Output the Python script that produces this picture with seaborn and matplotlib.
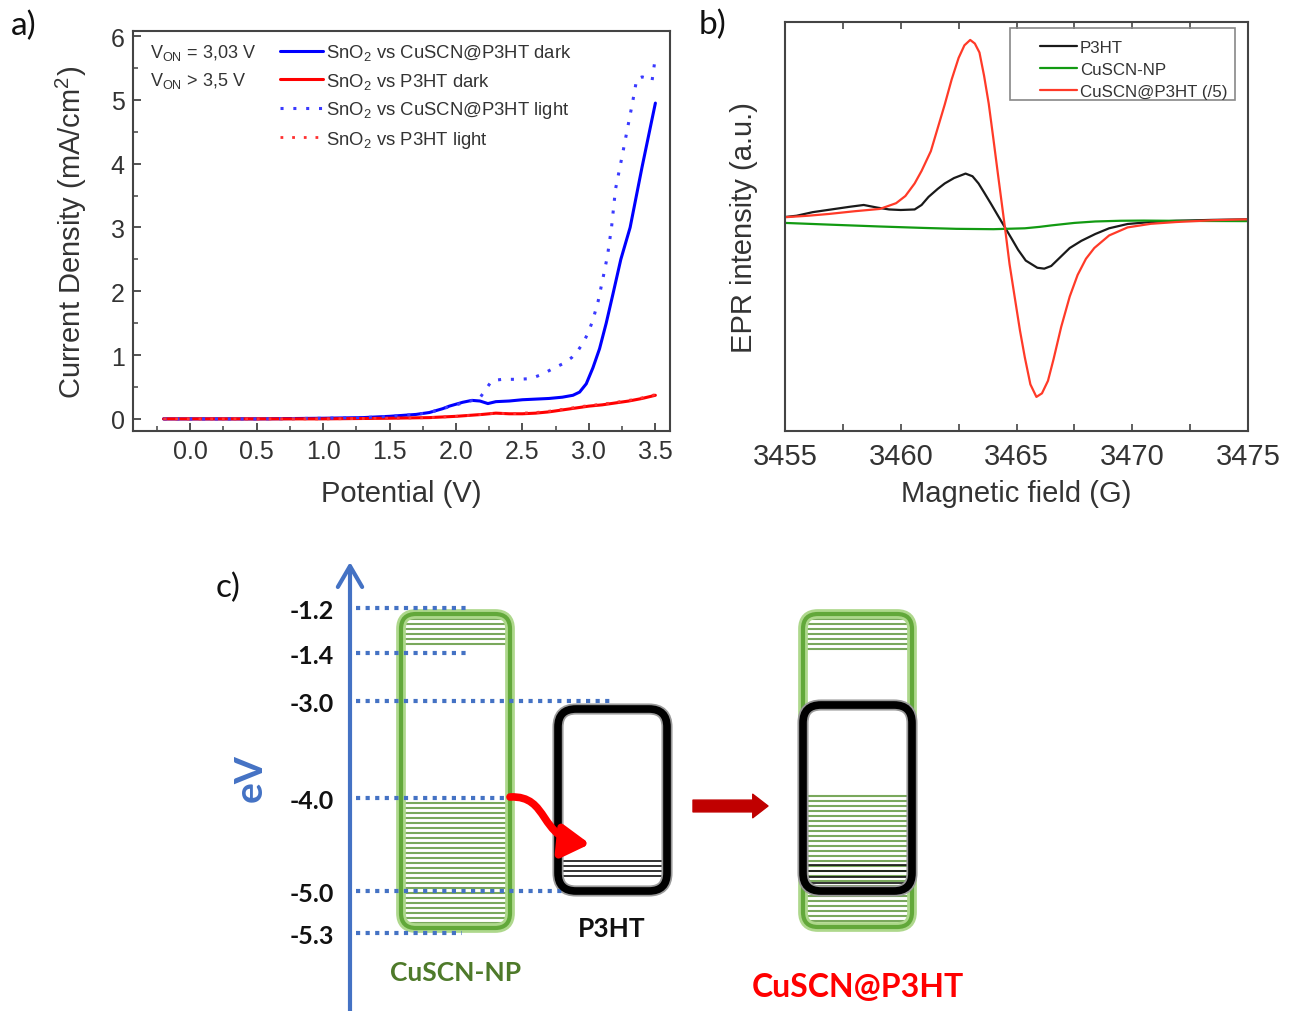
import numpy as np
import matplotlib
matplotlib.use("Agg")
import matplotlib.pyplot as plt
import seaborn as sns
from matplotlib.patches import FancyBboxPatch, FancyArrowPatch
from matplotlib.path import Path
from matplotlib.ticker import MultipleLocator, FormatStrFormatter

# ---------- a) current density vs potential ----------
pot_cuscn_dark = [-0.2, 0.0, 0.5, 1.0, 1.3, 1.5, 1.7, 1.8, 1.9, 1.95, 2.05, 2.12, 2.18, 2.24, 2.3,
                  2.4, 2.5, 2.6, 2.7, 2.8, 2.88, 2.93, 2.98, 3.03, 3.08, 3.13, 3.18, 3.24, 3.31, 3.4, 3.5]
j_cuscn_dark = [0.0, 0.0, 0.0, 0.01, 0.02, 0.04, 0.07, 0.1, 0.16, 0.2, 0.26, 0.29, 0.28, 0.24, 0.27,
                0.28, 0.3, 0.31, 0.32, 0.34, 0.37, 0.42, 0.55, 0.8, 1.1, 1.5, 1.95, 2.5, 3.0, 3.95, 4.95]

pot_p3ht_dark = [-0.2, 0.0, 0.5, 1.0, 1.5, 1.8, 2.0, 2.2, 2.3, 2.4, 2.5, 2.6, 2.7, 2.8, 2.9, 3.0,
                 3.1, 3.2, 3.3, 3.4, 3.5]
j_p3ht_dark = [0.0, 0.0, 0.0, 0.0, 0.01, 0.02, 0.04, 0.07, 0.09, 0.08, 0.08, 0.09, 0.11, 0.14, 0.17,
               0.2, 0.22, 0.25, 0.28, 0.32, 0.37]

pot_cuscn_light = [-0.2, 0.0, 0.5, 1.0, 1.3, 1.5, 1.7, 1.8, 1.9, 2.0, 2.1, 2.17, 2.22, 2.27, 2.35,
                   2.45, 2.56, 2.65, 2.74, 2.8, 2.87, 2.92, 2.96, 3.0, 3.03, 3.07, 3.11, 3.14, 3.17,
                   3.2, 3.25, 3.29, 3.33, 3.36, 3.4, 3.44, 3.475, 3.5]
j_cuscn_light = [0.0, 0.0, 0.0, 0.01, 0.02, 0.04, 0.07, 0.1, 0.16, 0.22, 0.28, 0.3, 0.45, 0.6, 0.62,
                 0.62, 0.63, 0.7, 0.8, 0.86, 0.96, 1.08, 1.2, 1.38, 1.55, 1.85, 2.25, 2.56, 3.0,
                 3.6, 4.12, 4.55, 4.98, 5.33, 5.36, 5.34, 5.3, 5.67]

pot_p3ht_light = [-0.2, 0.0, 0.5, 1.0, 1.5, 1.8, 2.0, 2.2, 2.3, 2.4, 2.5, 2.6, 2.7, 2.8, 2.9, 3.0,
                  3.1, 3.2, 3.3, 3.4, 3.5]
j_p3ht_light = [0.0, 0.0, 0.0, 0.0, 0.01, 0.02, 0.04, 0.07, 0.09, 0.08, 0.09, 0.1, 0.12, 0.15, 0.18,
                0.21, 0.23, 0.26, 0.29, 0.33, 0.38]

# ---------- b) EPR spectra ----------
field_red = [3454.8, 3456.0, 3456.9, 3458.0, 3459.1, 3459.8, 3460.2, 3460.6, 3460.9, 3461.3, 3461.6,
             3461.9, 3462.2, 3462.5, 3462.75, 3463.0, 3463.2, 3463.4, 3463.6, 3463.8, 3464.0, 3464.2,
             3464.5, 3464.7, 3464.93, 3465.15, 3465.36, 3465.6, 3465.86, 3466.1, 3466.36, 3466.6,
             3466.93, 3467.3, 3467.64, 3468.0, 3468.36, 3469.0, 3469.8, 3470.8, 3471.9, 3473.5, 3475.0]
epr_red = [0.01, 0.02, 0.03, 0.045, 0.058, 0.09, 0.13, 0.2, 0.27, 0.38, 0.51, 0.64, 0.78, 0.9, 0.97,
           1.0, 0.98, 0.93, 0.8, 0.645, 0.45, 0.25, -0.045, -0.25, -0.44, -0.62, -0.77, -0.92, -0.99,
           -0.97, -0.9, -0.78, -0.6, -0.43, -0.31, -0.22, -0.16, -0.09, -0.045, -0.025, -0.015,
           -0.005, 0.0]

field_black = [3454.8, 3455.5, 3456.2, 3457.0, 3457.8, 3458.4, 3459.0, 3459.5, 3460.0, 3460.6,
               3460.9, 3461.2, 3461.6, 3461.9, 3462.3, 3462.8, 3463.1, 3463.36, 3463.6, 3463.9,
               3464.2, 3464.5, 3464.8, 3465.07, 3465.4, 3465.9, 3466.2, 3466.5, 3466.9, 3467.3,
               3467.8, 3468.4, 3469.0, 3469.8, 3470.8, 3471.9, 3473.5, 3475.0]
epr_black = [0.01, 0.02, 0.04, 0.055, 0.07, 0.08, 0.065, 0.055, 0.052, 0.055, 0.08, 0.125, 0.17,
             0.2, 0.23, 0.255, 0.24, 0.2, 0.15, 0.086, 0.02, -0.045, -0.11, -0.17, -0.23, -0.27,
             -0.275, -0.26, -0.21, -0.16, -0.12, -0.082, -0.05, -0.026, -0.015, -0.008, -0.003, 0.0]

field_green = [3455.0, 3457.0, 3459.1, 3461.0, 3462.4, 3464.0, 3465.36, 3466.0, 3466.5, 3467.5,
               3468.4, 3469.5, 3470.5, 3472.5, 3475.0]
epr_green = [-0.02, -0.03, -0.04, -0.048, -0.053, -0.055, -0.05, -0.042, -0.034, -0.02, -0.012,
             -0.008, -0.007, -0.009, -0.01]

# ---------- c) energy diagram ----------
level_labels = ["-1.2", "-1.4", "-3.0", "-4.0", "-5.0", "-5.3"]
level_y = [609, 654, 702, 799, 892, 934]          # schematic, not to scale
level_x_end = [466, 466, 612, 510, 605, 462]

BLUE_C = "#4472c4"

sns.set_style("ticks")
plt.rcParams['font.family'] = ['Liberation Sans', 'DejaVu Sans']
plt.rcParams['mathtext.default'] = 'regular'
plt.rcParams['text.color'] = '#333333'
plt.rcParams['axes.labelcolor'] = '#333333'

W, H = 1293, 1012
fig = plt.figure(figsize=(W / 100, H / 100), dpi=100)


def px_axes(l, t, r, b):
    return fig.add_axes([l / W, 1 - b / H, (r - l) / W, (b - t) / H])


def frame(ax):
    for s in ax.spines.values():
        s.set_visible(True)
        s.set_color('#444444')
        s.set_linewidth(1.5)


# ---- panel a
ax_a = px_axes(133, 32, 670, 432)
dots = (0, (1, 3.2))
sns.lineplot(x=pot_cuscn_dark, y=j_cuscn_dark, ax=ax_a, color='#0000ff', lw=2.2, sort=False,
             estimator=None, label='SnO$_2$ vs CuSCN@P3HT dark')
sns.lineplot(x=pot_p3ht_dark, y=j_p3ht_dark, ax=ax_a, color='#ff0000', lw=2.2, sort=False,
             estimator=None, label='SnO$_2$ vs P3HT dark')
sns.lineplot(x=pot_cuscn_light, y=j_cuscn_light, ax=ax_a, color='#3a3aff', lw=2.2, sort=False,
             estimator=None, linestyle=dots, label='SnO$_2$ vs CuSCN@P3HT light')
sns.lineplot(x=pot_p3ht_light, y=j_p3ht_light, ax=ax_a, color='#ff3030', lw=2.0, sort=False,
             estimator=None, linestyle=dots, label='SnO$_2$ vs P3HT light')
ax_a.set_xlim(-0.43, 3.61)
ax_a.set_ylim(-0.19, 6.08)
ax_a.set_xticks(np.arange(0, 3.51, 0.5))
ax_a.set_yticks(range(0, 7))
ax_a.xaxis.set_major_formatter(FormatStrFormatter('%.1f'))
ax_a.xaxis.set_minor_locator(MultipleLocator(0.25))
ax_a.yaxis.set_minor_locator(MultipleLocator(0.5))
ax_a.tick_params(which='both', direction='in', colors='#444444', labelcolor='#333333', labelsize=18)
ax_a.tick_params(which='major', length=6, width=1.3, pad=6)
ax_a.tick_params(which='minor', length=3.5, width=1.1)
frame(ax_a)
ax_a.set_xlabel('Potential (V)', fontsize=21)
ax_a.set_ylabel('Current Density (mA/cm$^2$)', fontsize=21)
ax_a.xaxis.set_label_coords(0.5, -0.12)
ax_a.yaxis.set_label_coords(-0.082, 0.5)
ax_a.legend(loc='upper left', bbox_to_anchor=(0.274, 0.972), frameon=False, fontsize=13.3,
            borderpad=0, borderaxespad=0, handlelength=2.3, handletextpad=0.2, labelspacing=0.46)
ax_a.text(0.032, 0.948, 'V$_{ON}$ = 3,03 V', transform=ax_a.transAxes, fontsize=13, va='center')
ax_a.text(0.032, 0.878, 'V$_{ON}$ > 3,5 V', transform=ax_a.transAxes, fontsize=13, va='center')

# ---- panel b
ax_b = px_axes(785, 23, 1248, 432)
sns.lineplot(x=field_black, y=epr_black, ax=ax_b, color='#1a1a1a', lw=1.6, sort=False,
             estimator=None, label='P3HT')
sns.lineplot(x=field_green, y=epr_green, ax=ax_b, color='#129a12', lw=1.6, sort=False,
             estimator=None, label='CuSCN-NP')
sns.lineplot(x=field_red, y=epr_red, ax=ax_b, color='#ff3a28', lw=1.6, sort=False,
             estimator=None, label='CuSCN@P3HT (/5)')
ax_b.set_xlim(3455, 3475)
ax_b.set_ylim(-1.18, 1.1)
ax_b.set_xticks(range(3455, 3476, 5))
ax_b.xaxis.set_minor_locator(MultipleLocator(2.5))
ax_b.set_yticks([])
ax_b.tick_params(which='both', direction='in', top=True, colors='#444444', labelcolor='#333333',
                 labelsize=21, length=5, width=1.2, pad=8)
frame(ax_b)
ax_b.set_xlabel('Magnetic field (G)', fontsize=21)
ax_b.set_ylabel('EPR intensity (a.u.)', fontsize=21)
ax_b.xaxis.set_label_coords(0.5, -0.117)
ax_b.yaxis.set_label_coords(-0.058, 0.5)
ax_b.add_patch(plt.Rectangle((0.486, 0.81), 0.486, 0.176, transform=ax_b.transAxes, fill=False,
                             ec='#888888', lw=1.2))
ax_b.legend(loc='upper left', bbox_to_anchor=(0.551, 0.956), frameon=False, fontsize=12.2,
            borderpad=0, borderaxespad=0, handlelength=2.2, handletextpad=0.15, labelspacing=0.4)

# ---- panel c (schematic in pixel coordinates)
ax_c = fig.add_axes([0, 0, 1, 456 / H])
ax_c.set_xlim(0, W)
ax_c.set_ylim(H, H - 456)
ax_c.axis('off')
ax_c.set_zorder(-1)

ax_c.annotate('', xy=(350, 563), xytext=(350, 1012),
              arrowprops=dict(arrowstyle='->,head_length=0.6,head_width=0.35', lw=3, color=BLUE_C,
                              mutation_scale=25, shrinkA=0, shrinkB=0))
ax_c.text(250, 778, 'eV', rotation=90, ha='center', va='center', color=BLUE_C, fontsize=28,
          fontweight='bold', family='Lato')

for lab, y, xe in zip(level_labels, level_y, level_x_end):
    ax_c.plot([356, xe], [y, y], color=BLUE_C, lw=3, linestyle=(0, (1, 1.3)), zorder=3)
    ax_c.text(334, y + 3, lab, ha='right', va='center', fontsize=18, fontweight='bold',
              family='Lato', color='#111111')


def stripes(x0, x1, y0, y1, color, step=5, lw=1.5):
    ax_c.hlines(np.arange(y0, y1, step), x0, x1, colors=color, lw=lw, zorder=1)


def rbox(x0, x1, y0, y1, ec, lw, r, z=2):
    ax_c.add_patch(FancyBboxPatch((x0, y0), x1 - x0, y1 - y0, fill=False, ec=ec, lw=lw,
                                  boxstyle=f'round,pad=0,rounding_size={r}', zorder=z))


def green_box(x0, x1, y0, y1, bands):
    for b0, b1 in bands:
        stripes(x0 + 4, x1 - 4, b0, b1, '#79a85c')
    rbox(x0, x1, y0, y1, '#aed88c', 7, 15)
    rbox(x0, x1, y0, y1, '#62a83a', 3, 15)


# CuSCN-NP
green_box(401, 510, 615, 929, [(620, 650), (804, 926)])
# P3HT
stripes(563, 662, 862, 880, '#111111', step=5, lw=1.2)
rbox(558, 667, 710, 892, '#9a9a9a', 8, 18)
rbox(558, 667, 710, 892, 'black', 5.5, 18, z=3)
# CuSCN@P3HT
green_box(803, 912, 615, 928, [(620, 652), (797, 924)])
stripes(808, 907, 866, 885, '#111111', step=6, lw=1.2)
rbox(803, 912, 706, 892, '#9a9a9a', 8, 18, z=3)
rbox(803, 912, 706, 892, 'black', 5.5, 18, z=4)

# red electron-transfer arrow
arc = Path([(510, 798), (550, 796), (538, 840), (590, 845)],
           [Path.MOVETO, Path.CURVE4, Path.CURVE4, Path.CURVE4])
ax_c.add_patch(FancyArrowPatch(path=arc, arrowstyle='-|>,head_length=0.75,head_width=0.45',
                               mutation_scale=22, lw=5.5, color='#ff0000', zorder=5))
# dark red arrow
ax_c.add_patch(FancyArrowPatch((693, 807), (768, 807),
                               arrowstyle='simple,head_length=1.1,head_width=1.7,tail_width=0.85',
                               mutation_scale=10, color='#c00000', shrinkA=0, shrinkB=0))

ax_c.text(612, 929, 'P3HT', ha='center', va='center', fontsize=19, fontweight='bold',
          family='Lato', color='#111111')
ax_c.text(456, 973, 'CuSCN-NP', ha='center', va='center', fontsize=19, fontweight='bold',
          family='Lato', color='#4e7a2a')
ax_c.text(858, 988, 'CuSCN@P3HT', ha='center', va='center', fontsize=23, fontweight='bold',
          family='Lato', color='#ff0000')

# panel letters
for x, y, s in [(24, 26, 'a)'), (712, 25, 'b)'), (228, 588, 'c)')]:
    fig.text(x / W, 1 - y / H, s, ha='center', va='center', fontsize=24, family='Lato',
             color='#111111')

fig.savefig('out.png', dpi=100)
